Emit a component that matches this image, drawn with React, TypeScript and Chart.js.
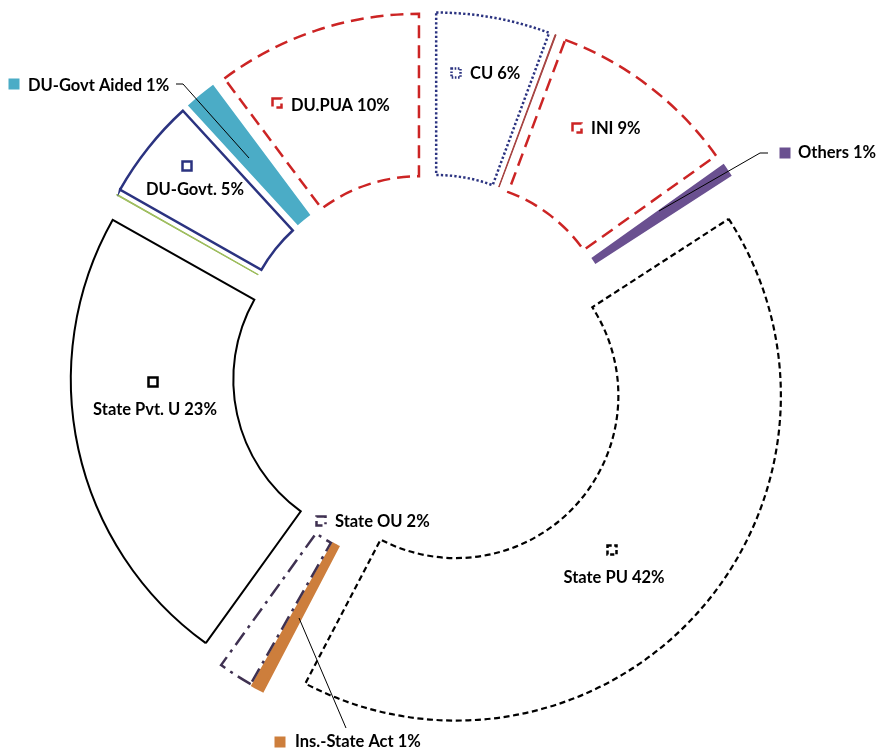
import React, { useEffect, useRef } from "react";
import { Chart, registerables } from "chart.js";

Chart.register(...registerables);

// ---- data (clockwise from 12 o'clock) ----
const categories = ["CU", "CU-INI sep", "INI", "Others", "State PU", "Ins.-State Act", "State OU", "State Pvt. U", "Pvt-DU sep", "DU-Govt.", "DU-Govt Aided", "DU.PUA"];
const shares = [5.64, 0.05, 9.44, 0.7, 41.75, 0.55, 1.72, 23.2, 0.05, 4.95, 1.6, 10.2];
const labelTexts = ["CU 6%", "", "INI 9%", "Others 1%", "State PU 42%", "Ins.-State Act 1%", "State OU 2%", "State Pvt. U 23%", "", "DU-Govt. 5%", "DU-Govt Aided 1%", "DU.PUA 10%"];

// ---- styles ----
const NAVY = "#2B3380";
const RED = "#CC2424";
const fillColors = ["#FFFFFF", "#A5403E", "#FFFFFF", "#6A5090", "#FFFFFF", "#CD7E3C", "#FFFFFF", "#FFFFFF", "#9BBB59", "#FFFFFF", "#4BACC6", "#FFFFFF"];
const borderColors = [NAVY, "#A5403E", RED, "#6A5090", "#000000", "#CD7E3C", "#3F3151", "#000000", "#9BBB59", NAVY, "#4BACC6", RED];
const borderWidths = [2.5, 1, 2.5, 0, 2.2, 3, 2.5, 2, 1, 2.5, 0, 2.5];
const dashes: number[][] = [[2.3, 2.2], [], [13, 7], [], [6, 3.6], [], [15, 6, 3, 6], [], [], [], [], [13, 7]];
const keyFilled = [false, false, false, true, false, true, false, false, false, false, true, false];

const EXPLODE = 35;

// label layout (key square centre, text anchor)
type Lab = { i: number; kx: number; ky: number; tx: number; ty: number; align: CanvasTextAlign };
const labelLayout: Lab[] = [
  { i: 0, kx: 456, ky: 73, tx: 470, ty: 74, align: "left" },
  { i: 2, kx: 577, ky: 128, tx: 591, ty: 129, align: "left" },
  { i: 3, kx: 785, ky: 153, tx: 798, ty: 153, align: "left" },
  { i: 4, kx: 612, ky: 550, tx: 614, ty: 578, align: "center" },
  { i: 5, kx: 280, ky: 742, tx: 295, ty: 742, align: "left" },
  { i: 6, kx: 321, ky: 521, tx: 335, ty: 522, align: "left" },
  { i: 7, kx: 153, ky: 382, tx: 155, ty: 410, align: "center" },
  { i: 9, kx: 187, ky: 166, tx: 195, ty: 190, align: "center" },
  { i: 10, kx: 14, ky: 84, tx: 28, ty: 86, align: "left" },
  { i: 11, kx: 277, ky: 103, tx: 291, ty: 106, align: "left" },
];
const leaders: number[][][] = [
  [[659, 211], [760, 153], [768, 153]],
  [[299, 618], [346, 728]],
  [[176, 84], [183, 84], [249, 158]],
];

const explodePlugin = {
  id: "explode",
  afterDatasetsUpdate(chart: any) {
    const meta = chart.getDatasetMeta(0);
    meta.data.forEach((arc: any) => {
      const mid = (arc.startAngle + arc.endAngle) / 2;
      arc.x += EXPLODE * Math.cos(mid);
      arc.y += EXPLODE * Math.sin(mid);
    });
  },
};

const labelPlugin = {
  id: "labels",
  afterDraw(chart: any) {
    const ctx: CanvasRenderingContext2D = chart.ctx;
    ctx.save();
    ctx.strokeStyle = "#000";
    ctx.lineWidth = 1;
    ctx.setLineDash([]);
    leaders.forEach((pts) => {
      ctx.beginPath();
      pts.forEach((p, k) => (k === 0 ? ctx.moveTo(p[0], p[1]) : ctx.lineTo(p[0], p[1])));
      ctx.stroke();
    });
    labelLayout.forEach((l) => {
      const i = l.i;
      const s = 9;
      if (keyFilled[i]) {
        ctx.fillStyle = fillColors[i];
        ctx.fillRect(l.kx - 5.5, l.ky - 5.5, 11, 11);
      } else {
        ctx.strokeStyle = borderColors[i];
        ctx.lineWidth = 2.5;
        ctx.setLineDash(dashes[i].map((d) => d * 0.7));
        ctx.strokeRect(l.kx - s / 2, l.ky - s / 2, s, s);
        ctx.setLineDash([]);
      }
      ctx.fillStyle = "#000";
      ctx.font = "bold 16.5px Lato";
      ctx.textBaseline = "middle";
      ctx.textAlign = l.align;
      ctx.fillText(labelTexts[i], l.tx, l.ty);
    });
    ctx.restore();
  },
};

export default function App() {
  const ref = useRef<HTMLCanvasElement>(null);
  useEffect(() => {
    if (!ref.current) return;
    const chart = new Chart(ref.current, {
      type: "doughnut",
      data: {
        labels: categories,
        datasets: [
          {
            data: shares,
            backgroundColor: fillColors,
            borderColor: borderColors,
            borderWidth: borderWidths,
            borderDash: (c: any) => dashes[c.dataIndex],
            borderJoinStyle: "miter",
            borderAlign: "center",
          } as any,
        ],
      },
      options: {
        responsive: false,
        animation: false,
        events: [],
        radius: 325,
        cutout: "50%",
        layout: { padding: { left: 0, right: 22, top: 0, bottom: 7 } },
        plugins: { legend: { display: false }, tooltip: { enabled: false } },
      } as any,
      plugins: [explodePlugin, labelPlugin],
    });
    return () => chart.destroy();
  }, []);
  return (
    <div style={{ position: "fixed", left: 0, top: 0, width: 882, height: 751, background: "#fff" }}>
      <canvas ref={ref} width={882} height={751} style={{ display: "block" }} />
    </div>
  );
}
